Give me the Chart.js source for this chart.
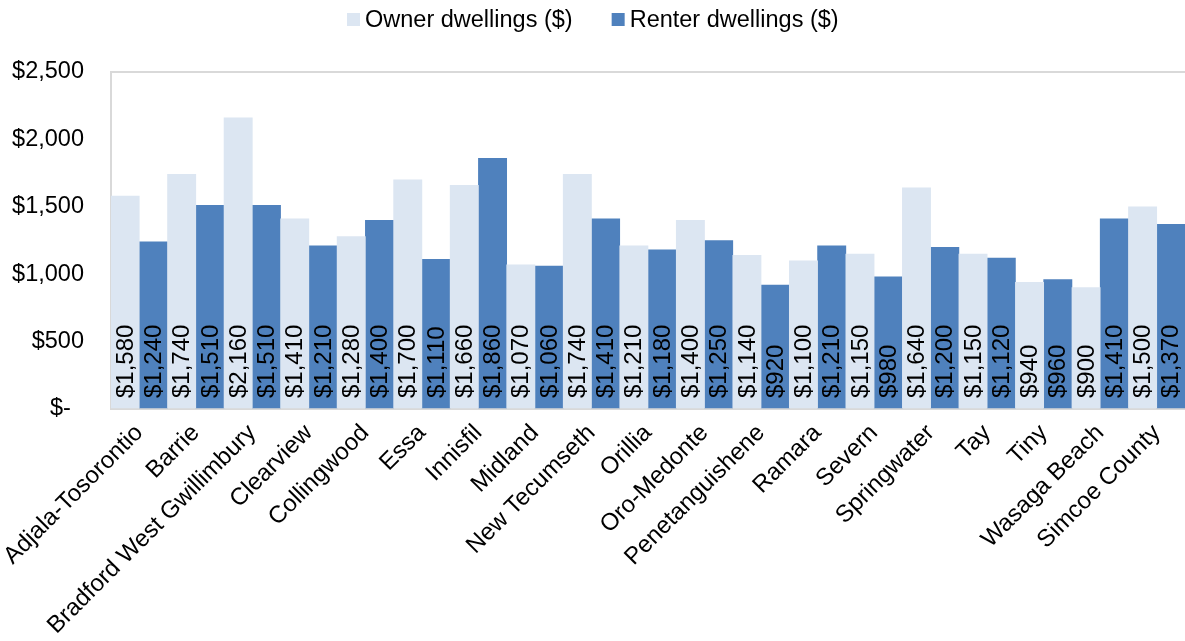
<!DOCTYPE html>
<html><head><meta charset="utf-8">
<script src="https://cdn.jsdelivr.net/npm/chart.js@4/dist/chart.umd.min.js"></script>
<style>html,body{margin:0;padding:0;background:#fff;}#wrap{width:1185px;height:641px;}</style>
</head><body><div id="wrap"><canvas id="c" width="1185" height="641"></canvas></div>
<script>
const categories = ["Adjala-Tosorontio","Barrie","Bradford West Gwillimbury","Clearview","Collingwood","Essa","Innisfil","Midland","New Tecumseth","Orillia","Oro-Medonte","Penetanguishene","Ramara","Severn","Springwater","Tay","Tiny","Wasaga Beach","Simcoe County"];
const ownerValues = [1580,1740,2160,1410,1280,1700,1660,1070,1740,1210,1400,1140,1100,1150,1640,1150,940,900,1500];
const renterValues = [1240,1510,1510,1210,1400,1110,1860,1060,1410,1180,1250,920,1210,980,1200,1120,960,1410,1370];
const yTicks = [0,500,1000,1500,2000,2500];
const seriesNames = ["Owner dwellings ($)","Renter dwellings ($)"];
const seriesColors = ['#DCE6F2', '#4F81BD'];

const FONT = "'Liberation Sans', Arial, sans-serif";
const fmt = v => '$' + v.toLocaleString('en-US');

const labelPlugin = {
  id: 'barLabels',
  afterDatasetsDraw(chart) {
    const ctx = chart.ctx;
    ctx.save();
    ctx.font = "24px " + FONT;
    ctx.fillStyle = '#000';
    ctx.textAlign = 'left';
    ctx.textBaseline = 'middle';
    chart.data.datasets.forEach((ds, di) => {
      const meta = chart.getDatasetMeta(di);
      meta.data.forEach((bar, i) => {
        ctx.save();
        ctx.translate(bar.x, bar.base - 10);
        ctx.rotate(-Math.PI / 2);
        ctx.fillText(fmt(ds.data[i]), 0, 1);
        ctx.restore();
      });
    });
    ctx.restore();
  }
};

const legendPlugin = {
  id: 'customLegend',
  afterDraw(chart) {
    const ctx = chart.ctx;
    ctx.save();
    ctx.font = "23.5px " + FONT;
    ctx.textBaseline = 'middle';
    ctx.textAlign = 'left';
    const box = 13, gapBox = 5, gapItem = 39, cy = 20;
    const items = chart.data.datasets.map(ds => ({ text: ds.label, color: ds.backgroundColor, w: ctx.measureText(ds.label).width }));
    let total = 0;
    items.forEach((it, i) => { total += box + gapBox + it.w + (i ? gapItem : 0); });
    let x = Math.round((chart.width - total) / 2);
    items.forEach(it => {
      ctx.fillStyle = it.color;
      ctx.fillRect(x, cy - 7, box, box);
      ctx.fillStyle = '#000';
      ctx.fillText(it.text, x + box + gapBox, cy + 1);
      x += box + gapBox + it.w + gapItem;
    });
    ctx.restore();
  }
};

new Chart(document.getElementById('c'), {
  type: 'bar',
  data: {
    labels: categories,
    datasets: [
      { label: seriesNames[0], data: ownerValues, backgroundColor: seriesColors[0], barPercentage: 1, categoryPercentage: 1 },
      { label: seriesNames[1], data: renterValues, backgroundColor: seriesColors[1], barPercentage: 1, categoryPercentage: 1 }
    ]
  },
  options: {
    responsive: false,
    animation: false,
    layout: { padding: { top: 72, right: 0, left: 0, bottom: 0 } },
    plugins: {
      legend: { display: false },
      tooltip: { enabled: false }
    },
    scales: {
      x: {
        offset: true,
        afterFit: s => { s.height = 232; s.paddingLeft = 0; s.paddingRight = 0; },
        grid: { display: false, drawTicks: false },
        border: { display: true, color: '#D9D9D9', width: 2 },
        ticks: { color: '#000', font: { family: FONT, size: 24 }, minRotation: 45, maxRotation: 45, padding: 10, autoSkip: false }
      },
      y: {
        min: 0, max: 2500,
        afterBuildTicks: s => { s.ticks = yTicks.map(v => ({ value: v })); },
        afterFit: s => { s.width = 111; },
        grid: { drawTicks: false, color: c => (c.tick && c.tick.value === 2500) ? '#D9D9D9' : 'rgba(0,0,0,0)', lineWidth: 2 },
        border: { display: true, color: '#D9D9D9', width: 2 },
        ticks: { color: '#000', font: { family: FONT, size: 23.5 }, padding: 27, callback: v => v === 0 ? '$-  ' : fmt(v) }
      }
    }
  },
  plugins: [labelPlugin, legendPlugin]
});
</script></body></html>
